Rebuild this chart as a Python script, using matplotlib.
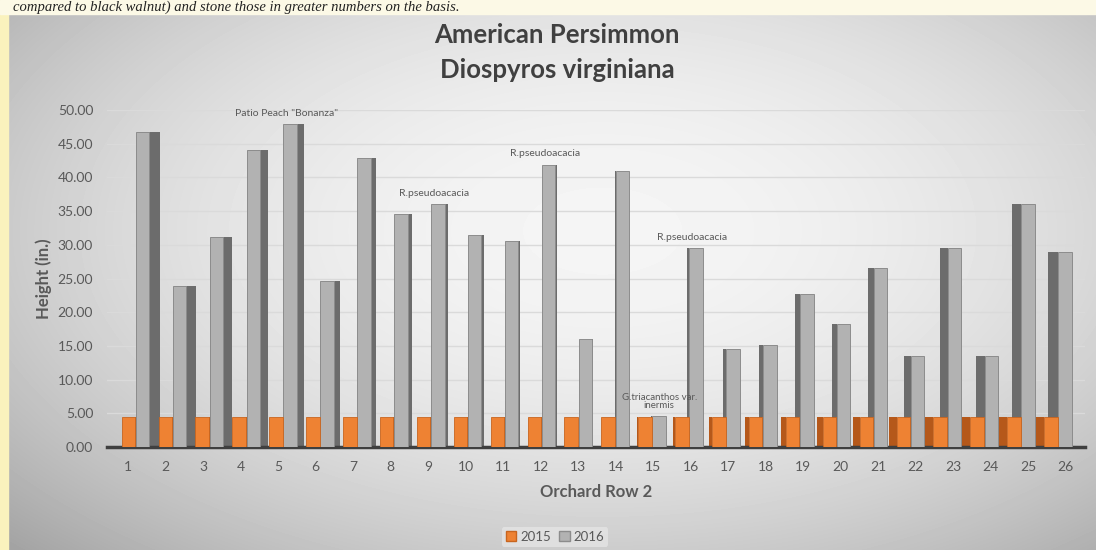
#!/usr/bin/env python3
"""American Persimmon (Diospyros virginiana) heights, Orchard Row 2, 2015 vs 2016."""
import numpy as np
import matplotlib
matplotlib.use("Agg")
import matplotlib.pyplot as plt
from matplotlib.patches import Patch, Rectangle

ROWS = list(range(1, 27))
H2015 = [4.5] * 26
H2016 = [46.8, 23.9, 31.1, 44.1, 47.9, 24.6, 42.9, 34.5, 36.0, 31.5,
         30.5, 41.9, 16.0, 40.9, 4.6, 29.5, 14.5, 15.1, 22.7, 18.3,
         26.6, 13.5, 29.5, 13.5, 36.0, 29.0]
NOTES = {5: 'Patio Peach "Bonanza"', 9: "R.pseudoacacia", 12: "R.pseudoacacia",
         16: "R.pseudoacacia", 15: "G.triacanthos var.\ninermis"}
YTICKS = [0, 5, 10, 15, 20, 25, 30, 35, 40, 45, 50]

ORANGE, ORANGE_SIDE = "#ee8233", "#b5581a"
GREY, GREY_SIDE = "#b2b2b2", "#6c6c6c"
TXT = "#595959"

plt.rcParams["font.family"] = ["Lato", "DejaVu Sans"]

fig = plt.figure(figsize=(10.96, 5.5), dpi=100)

# chart-area background: soft radial grey gradient
bg = fig.add_axes([0, 0, 1, 1], zorder=-10)
yy, xx = np.mgrid[0:1:550j, 0:1:1096j]
v = 0.96 - 0.17 * (((xx - 0.55) / 0.55) ** 2 + ((yy - 0.42) / 0.6) ** 2)
bg.imshow(np.clip(v, 0, 1), cmap="gray", vmin=0, vmax=1, aspect="auto",
          extent=[0, 1, 0, 1])
bg.set_axis_off()
# page margins from the surrounding document
fig.patches.append(Rectangle((0, 0), 8 / 1096, 1, transform=fig.transFigure,
                             color="#faf2bd", zorder=-5))
fig.patches.append(Rectangle((0, 1 - 14 / 550), 1, 14 / 550, transform=fig.transFigure,
                             color="#fcf9e6", zorder=-5))
fig.text(0.012, 1 - 11 / 550,
         "compared to black walnut) and stone those in greater numbers on the basis.",
         family="Liberation Serif", style="italic", fontsize=10.5, color="#222222",
         va="baseline")

ax = fig.add_axes([107 / 1096, 1 - 447 / 550, 978 / 1096, 337 / 550])
ax.patch.set_alpha(0)

x = np.array(ROWS, dtype=float)
shift = 0.2 * (13.5 - x) / 12.5          # perspective drift of each pair
side = 0.28 * (13.5 - x) / 12.5          # visible side face (+ right, - left)
w = 0.36
xo = x + shift - 0.19
xg = x + shift + 0.19

# side faces first, fronts on top
ax.bar(np.where(side > 0, xo + w / 2, xo - w / 2) + side / 2, H2015, width=np.abs(side),
       color=ORANGE_SIDE, zorder=1.5, linewidth=0)
ax.bar(np.where(side > 0, xg + w / 2, xg - w / 2) + side / 2, H2016, width=np.abs(side),
       color=GREY_SIDE, zorder=2, linewidth=0)
ax.bar(xg, H2016, width=w, color=GREY, edgecolor="#8c8c8c", linewidth=0.7, zorder=3)
ax.bar(xo, H2015, width=w, color=ORANGE, edgecolor="#c8651f", linewidth=0.6, zorder=4)

for row, note in NOTES.items():
    i = row - 1
    small = "\n" in note
    ax.text(xg[i] - (0.0 if small else 0.1), H2016[i] + (0.9 if small else 1.6), note,
            ha="center", va="bottom" if small else "center", fontsize=7 if small else 7.5,
            color=TXT, linespacing=0.9, zorder=6)

ax.set_xlim(0.44, 26.52)
ax.set_ylim(0, 50)
ax.set_yticks(YTICKS)
ax.set_yticklabels([f"{t:.2f}" for t in YTICKS])
ax.set_xticks(ROWS)
ax.set_xticklabels([str(r) for r in ROWS])
ax.tick_params(axis="both", length=0, colors=TXT, labelsize=10)
ax.tick_params(axis="y", pad=10)
ax.tick_params(axis="x", pad=10)
ax.grid(axis="y", color="#dadada", linewidth=1, zorder=0)
ax.set_axisbelow(True)
for s in ("top", "right", "left"):
    ax.spines[s].set_visible(False)
ax.spines["bottom"].set_color("#3f3f3f")
ax.spines["bottom"].set_linewidth(2.5)

ax.set_ylabel("Height (in.)", fontsize=12, fontweight="bold", color=TXT, labelpad=4)
ax.set_xlabel("Orchard Row 2", fontsize=12, fontweight="bold", color=TXT, labelpad=8)

fig.text(557 / 1096, 1 - 35 / 550, "American Persimmon", ha="center", va="center",
         fontsize=18.5, fontweight="bold", color="#404040")
fig.text(557 / 1096, 1 - 70 / 550, "Diospyros virginiana", ha="center", va="center",
         fontsize=18.5, fontweight="bold", color="#404040")

leg = fig.legend(handles=[Patch(facecolor=ORANGE, edgecolor="#c8651f"),
                          Patch(facecolor=GREY, edgecolor="#8c8c8c")],
                 labels=["2015", "2016"], loc="center", ncol=2,
                 bbox_to_anchor=(555 / 1096, 1 - 537 / 550), fontsize=9.5,
                 handlelength=0.8, handleheight=0.8, handletextpad=0.3,
                 columnspacing=0.6, frameon=True, borderpad=0.3)
leg.get_frame().set_facecolor("#e4e4e4")
leg.get_frame().set_edgecolor("none")
for t in leg.get_texts():
    t.set_color(TXT)

fig.savefig("out.png", dpi=100)
